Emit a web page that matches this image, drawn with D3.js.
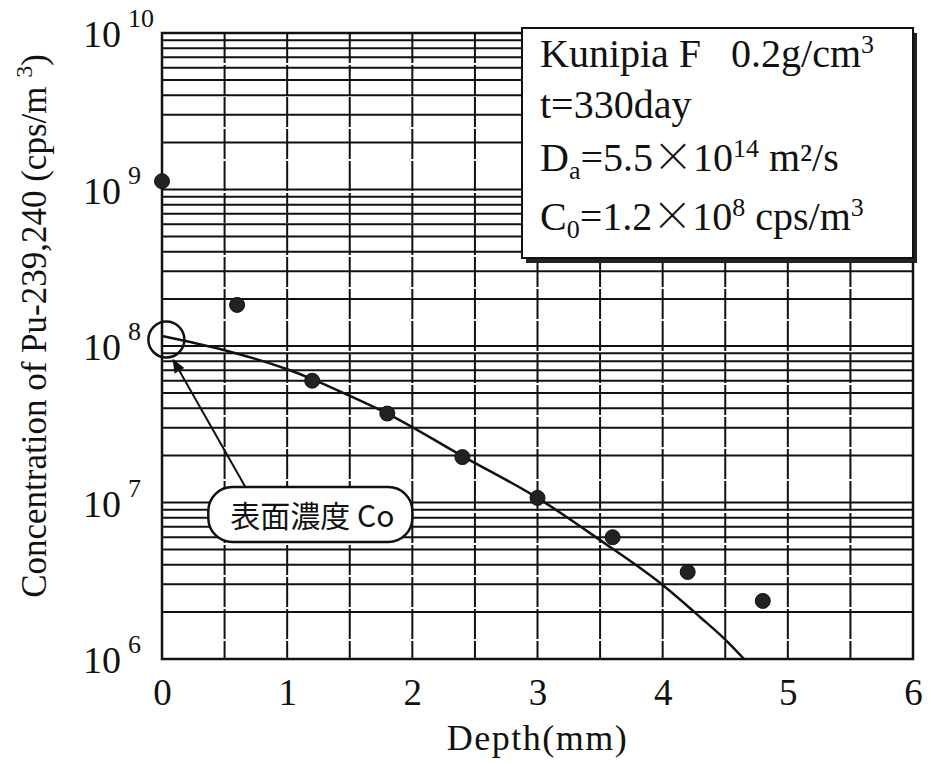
<!DOCTYPE html>
<html>
<head>
<meta charset="utf-8">
<script src="https://cdn.jsdelivr.net/npm/d3@7"></script>
<style>
  body { margin: 0; background: #fff; }
  svg { display: block; }
  text { font-family: "Liberation Serif", "Times New Roman", serif; fill: #111; }
</style>
</head>
<body>
<div id="chart"></div>
<script>
// measured points (depth mm, concentration cps/m3)
var depths = [0, 0.6, 1.2, 1.8, 2.4, 3.0, 3.6, 4.2, 4.8];
var conc = [1.13e9, 1.83e8, 6.0e7, 3.7e7, 1.95e7, 1.07e7, 6.0e6, 3.6e6, 2.35e6];

// fitted curve
var fitDepths = [0, 0.5, 1.0, 1.2, 1.5, 1.8, 2.4, 3.0, 3.5, 4.0, 4.3, 4.5, 4.65];
var fitConc = [1.16e8, 9.4e7, 7.1e7, 6.15e7, 4.8e7, 3.7e7, 1.98e7, 1.07e7, 5.75e6, 2.97e6, 1.85e6, 1.33e6, 1.0e6];

var xTicks = [0, 1, 2, 3, 4, 5, 6];
var yExponents = [6, 7, 8, 9, 10];

gen_chart();

function gen_chart() {

  var w = 931;
  var h = 764;
  var pLeft = 162, pRight = 913, pTop = 33, pBottom = 659;

  var svg = d3.select("#chart")
    .append("svg")
    .attr("width", w)
    .attr("height", h);

  var xscale = d3.scaleLinear()
    .domain([0, 6])
    .range([pLeft, pRight]);

  var yscale = d3.scaleLog()
    .domain([1e6, 1e10])
    .range([pBottom, pTop]);

  // grid
  var vgrid = d3.range(0, 6.01, 0.5);
  svg.append("g")
    .selectAll("line")
    .data(vgrid)
    .enter().append("line")
    .attr("x1", function(d) { return xscale(d); })
    .attr("x2", function(d) { return xscale(d); })
    .attr("y1", pTop)
    .attr("y2", pBottom)
    .style("stroke", "#111")
    .style("stroke-width", 2)
    .style("stroke-dasharray", "30,2");

  var hgrid = [];
  [6, 7, 8, 9].forEach(function(e) {
    for (var k = 1; k <= 9; k++) hgrid.push(k * Math.pow(10, e));
  });
  hgrid.push(1e10);

  svg.append("g")
    .selectAll("line")
    .data(hgrid)
    .enter().append("line")
    .attr("x1", pLeft)
    .attr("x2", pRight)
    .attr("y1", function(d) { return yscale(d); })
    .attr("y2", function(d) { return yscale(d); })
    .style("stroke", "#111")
    .style("stroke-width", 2);

  // frame
  svg.append("rect")
    .attr("x", pLeft)
    .attr("y", pTop)
    .attr("width", pRight - pLeft)
    .attr("height", pBottom - pTop)
    .style("fill", "none")
    .style("stroke", "#111")
    .style("stroke-width", 2.5);

  // x axis
  var xaxis = d3.axisBottom()
    .scale(xscale)
    .tickValues(xTicks)
    .tickFormat(d3.format("d"))
    .tickSize(0)
    .tickPadding(20);

  var gx = svg.append("g")
    .attr("transform", "translate(0," + pBottom + ")")
    .call(xaxis);
  gx.select(".domain").remove();
  gx.selectAll("text")
    .style("font-family", "'Liberation Serif', serif")
    .style("font-size", "37px")
    .style("fill", "#111");

  svg.append("text")
    .attr("x", xscale(3))
    .attr("y", 750)
    .attr("text-anchor", "middle")
    .style("font-size", "36px")
    .style("letter-spacing", "1.5px")
    .text("Depth(mm)");

  // y axis labels 10^n
  var ylab = svg.append("g").selectAll("g")
    .data(yExponents)
    .enter().append("g");

  ylab.append("text")
    .attr("x", 121)
    .attr("y", function(d) { return yscale(Math.pow(10, d)) + 14; })
    .attr("text-anchor", "end")
    .style("font-size", "38px")
    .text("10");

  ylab.append("text")
    .attr("x", 128)
    .attr("y", function(d) { return yscale(Math.pow(10, d)) - 6; })
    .style("font-size", "26px")
    .text(function(d) { return d; });

  var ytitle = svg.append("text")
    .attr("transform", "translate(46,326) rotate(-90)")
    .attr("text-anchor", "middle")
    .style("font-size", "35px");
  ytitle.append("tspan").text("Concentration of Pu-239,240 (cps/m ");
  ytitle.append("tspan").attr("dy", -14).style("font-size", "24px").text("3");
  ytitle.append("tspan").attr("dy", 14).text(")");

  // fitted line
  var line = d3.line()
    .curve(d3.curveMonotoneX)
    .x(function(d, i) { return xscale(fitDepths[i]); })
    .y(function(d) { return yscale(d); });

  svg.append("path")
    .datum(fitConc)
    .style("fill", "none")
    .style("stroke", "#111")
    .style("stroke-width", 2.5)
    .attr("d", line);

  // points
  svg.selectAll("circle.dot")
    .data(conc)
    .enter().append("circle")
    .attr("class", "dot")
    .attr("r", 7.5)
    .attr("cx", function(d, i) { return xscale(depths[i]); })
    .attr("cy", function(d) { return yscale(d); })
    .style("fill", "#222")
    .style("stroke", "#111")
    .style("stroke-width", 1);

  // C0 annotation
  svg.append("circle")
    .attr("cx", xscale(0.035))
    .attr("cy", yscale(1.1e8))
    .attr("r", 18)
    .style("fill", "none")
    .style("stroke", "#111")
    .style("stroke-width", 2.5);

  svg.append("defs").append("marker")
    .attr("id", "arrow")
    .attr("viewBox", "0 0 10 10")
    .attr("refX", 9)
    .attr("refY", 5)
    .attr("markerWidth", 7)
    .attr("markerHeight", 7)
    .attr("orient", "auto")
    .append("path")
    .attr("d", "M0,1 L10,5 L0,9 Z")
    .style("fill", "#111");

  svg.append("line")
    .attr("x1", xscale(0.665))
    .attr("y1", yscale(1.26e7))
    .attr("x2", xscale(0.09))
    .attr("y2", yscale(8.15e7))
    .style("stroke", "#111")
    .style("stroke-width", 2)
    .attr("marker-end", "url(#arrow)");

  var cx0 = xscale(0.37), cx1 = xscale(2.0);
  var cy0 = yscale(1.256e7), cy1 = yscale(5.6e6);
  svg.append("rect")
    .attr("x", cx0)
    .attr("y", cy0)
    .attr("width", cx1 - cx0)
    .attr("height", cy1 - cy0)
    .attr("rx", 24)
    .attr("ry", 24)
    .style("fill", "#fff")
    .style("stroke", "#111")
    .style("stroke-width", 2.5);

  svg.append("text")
    .attr("x", (cx0 + cx1) / 2 + 2)
    .attr("y", cy1 - 15)
    .attr("text-anchor", "middle")
    .style("font-family", "'Noto Sans CJK JP', sans-serif")
    .style("font-size", "30px")
    .text("表面濃度 Co");

  // legend box
  var bx = pRight - 391, by = pTop - 5, bw = 391, bh = 230;
  svg.append("rect")
    .attr("x", bx + 4)
    .attr("y", by + 5)
    .attr("width", bw)
    .attr("height", bh)
    .style("fill", "#222");
  svg.append("rect")
    .attr("x", bx)
    .attr("y", by)
    .attr("width", bw)
    .attr("height", bh)
    .style("fill", "#fff")
    .style("stroke", "#111")
    .style("stroke-width", 2);

  var legendLines = [
    [["Kunipia F\u00a0\u00a0\u00a00.2g/cm", 0], ["3", 1]],
    [["t=330day", 0]],
    [["D", 0], ["a", -1], ["=5.5", 0], ["\u00d7", 2], ["10", 0], ["14", 1], [" m\u00b2/s", 0]],
    [["C", 0], ["0", -1], ["=1.2", 0], ["\u00d7", 2], ["10", 0], ["8", 1], [" cps/m", 0], ["3", 1]]
  ];
  var legendY = [67, 118, 171, 230];

  legendLines.forEach(function(parts, i) {
    var t = svg.append("text")
      .attr("x", bx + 18)
      .attr("y", legendY[i])
      .style("font-size", "40px");
    var shift = 0;
    parts.forEach(function(p) {
      var dy = 0, size = "40px", fam = null;
      if (p[1] === 1) { dy = -14; size = "26px"; }
      if (p[1] === -1) { dy = 8; size = "26px"; }
      if (p[1] === 2) { fam = "'Noto Sans CJK JP', sans-serif"; }
      var ts = t.append("tspan")
        .attr("dy", dy - shift)
        .style("font-size", size)
        .text(p[0]);
      if (fam) ts.style("font-family", fam).style("font-weight", 300);
      shift = dy;
    });
  });
}
</script>
</body>
</html>
